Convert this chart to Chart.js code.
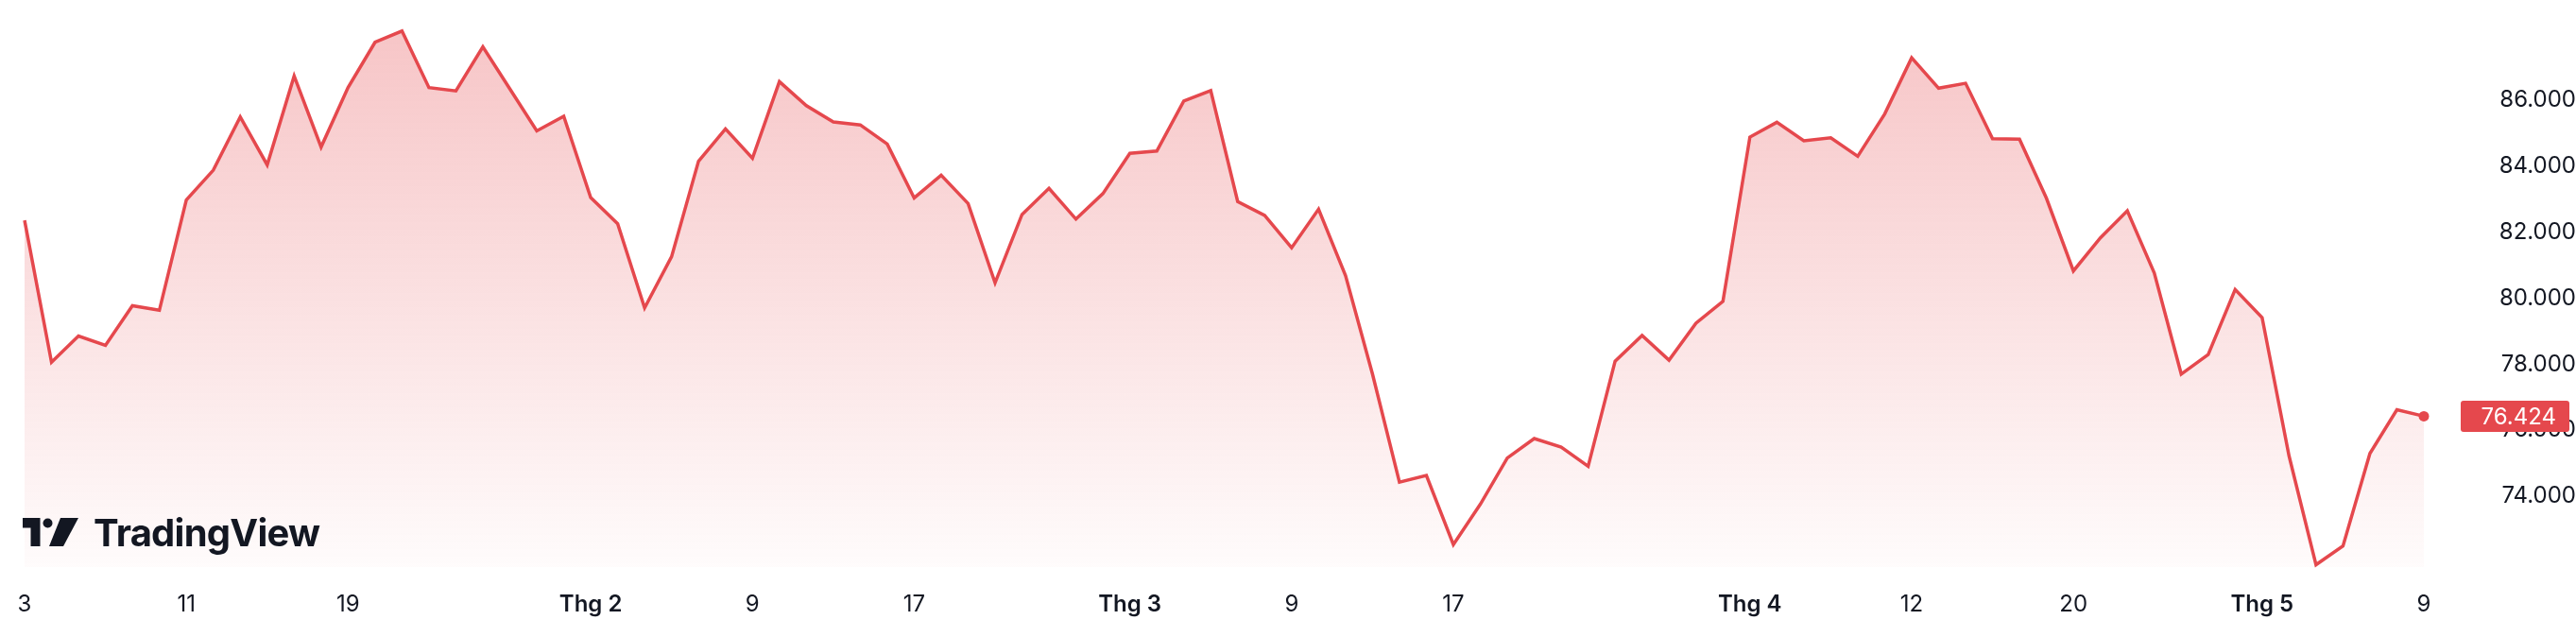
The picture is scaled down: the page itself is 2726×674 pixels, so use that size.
<!DOCTYPE html>
<html>
<head>
<meta charset="utf-8">
<script src="https://cdn.jsdelivr.net/npm/chart.js@4.4.1/dist/chart.umd.min.js"></script>
<style>
  html, body { margin: 0; padding: 0; background: #fff; }
  #wrap { width: 2726px; height: 674px; }
</style>
</head>
<body>
<div id="wrap"><canvas id="chart" width="2726" height="674"></canvas></div>
<script>
// gia dong cua, doc tu hinh (90 phien)
const prices = [
  82.35, 78.06, 78.85, 78.57, 79.77, 79.63, 82.97, 83.87, 85.48, 84.03,
  86.72, 84.57, 86.37, 87.74, 88.08, 86.37, 86.27, 87.60, 86.33, 85.06,
  85.50, 83.04, 82.25, 79.70, 81.25, 84.14, 85.12, 84.23, 86.55, 85.82,
  85.33, 85.24, 84.66, 83.03, 83.72, 82.86, 80.46, 82.53, 83.32, 82.39,
  83.16, 84.38, 84.45, 85.96, 86.28, 82.92, 82.50, 81.52, 82.69, 80.68,
  77.70, 74.43, 74.63, 72.54, 73.76, 75.16, 75.75, 75.49, 74.91, 78.09,
  78.87, 78.12, 79.24, 79.90, 84.87, 85.32, 84.76, 84.85, 84.29, 85.57,
  87.27, 86.35, 86.50, 84.82, 84.81, 83.02, 80.82, 81.82, 82.64, 80.76,
  77.70, 78.29, 80.26, 79.41, 75.22, 71.93, 72.50, 75.30, 76.62, 76.424
];
const sessions = prices.map((_, i) => i);
const tickPositions = [0, 6, 12, 21, 27, 33, 41, 47, 53, 64, 70, 76, 83, 89];
const tickTexts = ['3', '11', '19', 'Thg 2', '9', '17', 'Thg 3', '9', '17', 'Thg 4', '12', '20', 'Thg 5', '9'];
const yTicks = [74, 76, 78, 80, 82, 84, 86];

const RED = '#E5484D';
const TEXT = '#131722';
const FONT = 'Inter, Roboto, sans-serif';

function tickText(i) {
  const k = tickPositions.indexOf(i);
  return k >= 0 ? tickTexts[k] : '';
}

// nhan gia cuoi + logo
const overlay = {
  id: 'overlay',
  afterDatasetsDraw(chart) {
    const c = chart.ctx;
    c.save();
    c.fillStyle = TEXT;
    // logo mark
    c.beginPath();
    c.moveTo(24, 548); c.lineTo(42.5, 548); c.lineTo(42.5, 578);
    c.lineTo(32.5, 578); c.lineTo(32.5, 558.5); c.lineTo(24, 558.5);
    c.closePath(); c.fill();
    c.beginPath();
    c.arc(50.5, 553.5, 5, 0, Math.PI * 2); c.fill();
    c.beginPath();
    c.moveTo(64, 548); c.lineTo(83, 548); c.lineTo(67, 578); c.lineTo(52, 578);
    c.closePath(); c.fill();
    // chu TradingView
    c.font = '700 40px ' + FONT;
    const w = c.measureText('TradingView').width;
    c.letterSpacing = ((240 - w) / 10).toFixed(2) + 'px';
    c.textBaseline = 'alphabetic';
    c.textAlign = 'left';
    c.fillText('TradingView', 99, 578);
    c.restore();
  },
  afterDraw(chart) {
    const c = chart.ctx;
    const y = chart.scales.y.getPixelForValue(prices[prices.length - 1]);
    c.save();
    c.fillStyle = RED;
    c.beginPath();
    c.roundRect(2604, y - 16.5, 115, 33, 3);
    c.fill();
    c.fillStyle = '#fff';
    c.font = '400 24px ' + FONT;
    c.textAlign = 'right';
    c.textBaseline = 'middle';
    c.fillText(prices[prices.length - 1].toFixed(3), 2705, y + 1);
    c.restore();
  }
};

const ctx = document.getElementById('chart').getContext('2d');
new Chart(ctx, {
  type: 'line',
  data: {
    labels: sessions,
    datasets: [{
      data: prices,
      borderColor: RED,
      borderWidth: 3.5,
      tension: 0,
      fill: 'start',
      backgroundColor: (context) => {
        const area = context.chart.chartArea;
        if (!area) return 'rgba(229,72,77,0.15)';
        const g = context.chart.ctx.createLinearGradient(0, area.top, 0, area.bottom);
        g.addColorStop(0, 'rgba(229,72,77,0.33)');
        g.addColorStop(1, 'rgba(229,72,77,0.02)');
        return g;
      },
      pointRadius: (c) => c.dataIndex === prices.length - 1 ? 5.5 : 0,
      pointBackgroundColor: RED,
      pointBorderWidth: 0,
      clip: false
    }]
  },
  options: {
    responsive: false,
    animation: false,
    devicePixelRatio: 1,
    layout: { padding: { left: 26, top: 0, right: 0, bottom: 0 } },
    plugins: { legend: { display: false }, tooltip: { enabled: false } },
    scales: {
      x: {
        type: 'category',
        offset: false,
        grid: { display: false },
        border: { display: false },
        afterFit: (s) => { s.height = 74; s.paddingLeft = 0; s.paddingRight = 0; },
        ticks: {
          autoSkip: false,
          maxRotation: 0,
          padding: 17,
          color: TEXT,
          callback: (v, i) => tickText(i),
          font: (c) => ({ family: FONT, size: 24, weight: tickText(c.index).startsWith('Thg') ? '600' : '400' })
        }
      },
      y: {
        position: 'right',
        min: 71.86,
        max: 88.862,
        grid: { display: false },
        border: { display: false },
        afterBuildTicks: (s) => { s.ticks = yTicks.map(v => ({ value: v })); },
        afterFit: (s) => { s.width = 161; s.paddingTop = 0; s.paddingBottom = 0; },
        ticks: {
          padding: 60,
          crossAlign: 'far',
          color: TEXT,
          font: { family: FONT, size: 24, weight: '400' },
          callback: (v) => Number(v).toFixed(3)
        }
      }
    }
  },
  plugins: [overlay]
});
</script>
</body>
</html>
